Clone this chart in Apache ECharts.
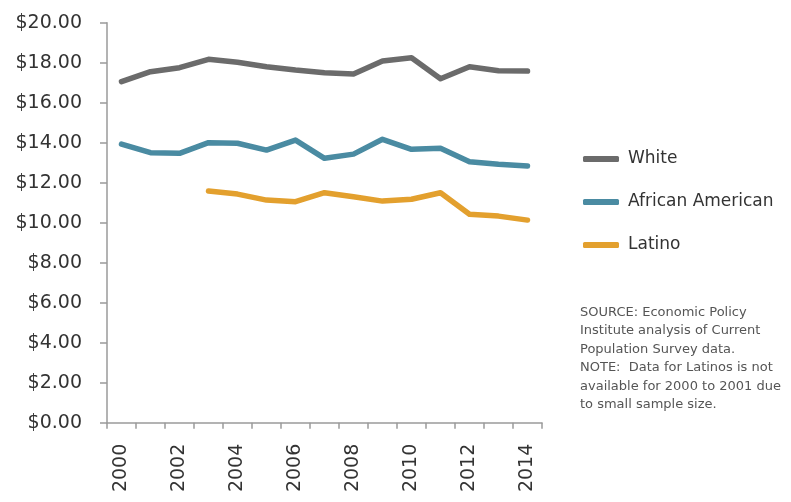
<!DOCTYPE html>
<html>
<head>
<meta charset="utf-8">
<script src="https://cdn.jsdelivr.net/npm/echarts@6/dist/echarts.min.js"></script>
<style>
  html, body { margin: 0; padding: 0; background: #fff; }
  #chart { width: 791px; height: 502px; }
</style>
</head>
<body>
<div id="chart"></div>
<script>
// Median hourly wages by race/ethnicity, 2000–2014
const years = ['2000','2001','2002','2003','2004','2005','2006','2007','2008','2009','2010','2011','2012','2013','2014'];
const white = [17.05, 17.55, 17.75, 18.17, 18.02, 17.80, 17.63, 17.50, 17.43, 18.08, 18.25, 17.20, 17.80, 17.60, 17.58];
const africanAmerican = [13.93, 13.50, 13.47, 14.00, 13.97, 13.63, 14.13, 13.22, 13.43, 14.17, 13.67, 13.72, 13.05, 12.92, 12.83];
const latino = [null, null, null, 11.58, 11.43, 11.13, 11.05, 11.50, 11.30, 11.08, 11.17, 11.50, 10.42, 10.33, 10.13];
const seriesNames = ['White', 'African American', 'Latino'];
const seriesColors = ['#6b6b6b', '#4a8ba2', '#e3a02e'];
const noteText = 'SOURCE: Economic Policy\nInstitute analysis of Current\nPopulation Survey data.\nNOTE:  Data for Latinos is not\navailable for 2000 to 2001 due\nto small sample size.';

const FONT = 'DejaVu Sans';
const chart = echarts.init(document.getElementById('chart'));

function lineSeries(name, data, color) {
  return {
    name: name,
    type: 'line',
    data: data,
    showSymbol: false,
    symbol: 'none',
    connectNulls: false,
    lineStyle: { color: color, width: 5.5, cap: 'round', join: 'round' },
    itemStyle: { color: color },
    emphasis: { disabled: true }
  };
}

chart.setOption({
  animation: false,
  backgroundColor: '#ffffff',
  textStyle: { fontFamily: FONT },
  grid: { left: 107, right: 249, top: 22.7, bottom: 79.3, containLabel: false },
  legend: {
    orient: 'vertical',
    left: 578,
    top: 144,
    itemWidth: 36,
    itemHeight: 6,
    itemGap: 23,
    icon: 'roundRect',
    data: seriesNames,
    textStyle: { fontFamily: FONT, fontSize: 17, color: '#333333', lineHeight: 20, padding: [0, 0, 0, 4] }
  },
  xAxis: {
    type: 'category',
    data: years,
    boundaryGap: true,
    axisLine: { lineStyle: { color: '#9a9a9a', width: 1.5 } },
    axisTick: { show: true, interval: 0, length: 6, lineStyle: { color: '#9a9a9a', width: 1.5 } },
    axisLabel: {
      interval: 1,
      rotate: 90,
      margin: 21,
      fontFamily: FONT,
      fontSize: 19,
      color: '#333333'
    },
    splitLine: { show: false }
  },
  yAxis: {
    type: 'value',
    min: 0,
    max: 20,
    interval: 2,
    axisLine: { show: true, lineStyle: { color: '#9a9a9a', width: 1.5 } },
    axisTick: { show: true, length: 7, lineStyle: { color: '#9a9a9a', width: 1.5 } },
    axisLabel: {
      margin: 25,
      fontFamily: FONT,
      fontSize: 19,
      color: '#333333',
      formatter: v => '$' + v.toFixed(2)
    },
    splitLine: { show: false }
  },
  series: [
    lineSeries(seriesNames[0], white, seriesColors[0]),
    lineSeries(seriesNames[1], africanAmerican, seriesColors[1]),
    lineSeries(seriesNames[2], latino, seriesColors[2])
  ],
  graphic: [{
    type: 'text',
    left: 580,
    top: 303,
    style: {
      text: noteText,
      fontFamily: FONT,
      fontSize: 13,
      lineHeight: 18.5,
      fill: '#555555'
    }
  }]
});
</script>
</body>
</html>
